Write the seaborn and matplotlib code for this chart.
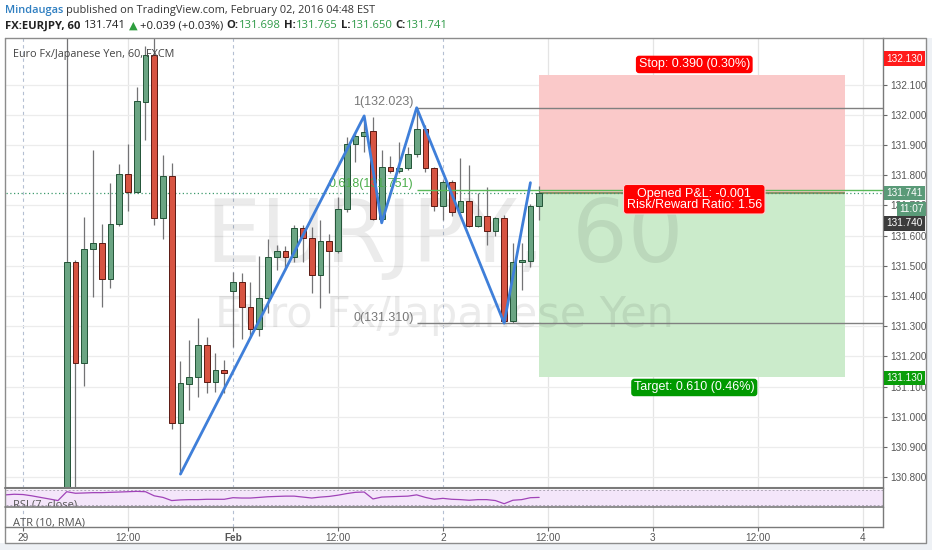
import matplotlib
matplotlib.use('Agg')
import matplotlib.pyplot as plt
import matplotlib.transforms as mtransforms
from matplotlib.patches import Rectangle
from matplotlib.lines import Line2D
import numpy as np
import pandas as pd
import seaborn as sns

# ---------------- data ----------------
bar_index = list(range(5, 60))
opens = [130.550, 131.513, 131.179, 131.554, 131.574, 131.456, 131.637, 131.804, 131.745, 132.043,
         132.198, 131.657, 131.797, 130.978, 131.108, 131.132, 131.237, 131.114, 131.155, 131.417,
         131.445, 131.362, 131.290, 131.394, 131.528, 131.548, 131.528, 131.624, 131.591, 131.469,
         131.582, 131.549, 131.687, 131.902, 131.930, 131.946, 131.654, 131.826, 131.814, 131.823,
         131.870, 131.952, 131.825, 131.699, 131.776, 131.677, 131.715, 131.631, 131.666, 131.616,
         131.657, 131.316, 131.511, 131.517, 131.698]
highs = [132.300, 131.520, 131.662, 131.883, 131.637, 131.773, 131.837, 131.903, 132.091, 132.227,
         132.290, 131.867, 131.839, 131.184, 131.254, 131.328, 131.263, 131.210, 131.188, 131.479,
         131.475, 131.446, 131.532, 131.587, 131.569, 131.565, 131.635, 131.635, 131.629, 131.651,
         131.604, 131.728, 131.927, 131.938, 131.993, 131.993, 131.883, 131.864, 131.909, 131.894,
         132.023, 131.966, 131.828, 131.784, 131.784, 131.858, 131.833, 131.740, 131.760, 131.662,
         131.668, 131.574, 131.574, 131.703, 131.765]
lows = [130.400, 130.600, 131.102, 131.397, 131.364, 131.426, 131.630, 131.682, 131.740, 131.916,
        131.635, 131.587, 130.958, 130.810, 131.022, 131.066, 131.079, 131.083, 131.079, 131.232,
        131.256, 131.260, 131.267, 131.342, 131.486, 131.486, 131.512, 131.513, 131.409, 131.359,
        131.409, 131.541, 131.679, 131.844, 131.877, 131.651, 131.651, 131.806, 131.806, 131.817,
        131.861, 131.811, 131.682, 131.651, 131.666, 131.677, 131.629, 131.629, 131.569, 131.598,
        131.310, 131.310, 131.420, 131.497, 131.650]
closes = [131.513, 131.179, 131.555, 131.576, 131.456, 131.637, 131.804, 131.745, 132.045, 132.198,
          131.657, 131.797, 130.978, 131.111, 131.132, 131.237, 131.114, 131.155, 131.144, 131.445,
          131.362, 131.290, 131.394, 131.528, 131.548, 131.528, 131.624, 131.591, 131.469, 131.582,
          131.549, 131.687, 131.902, 131.930, 131.944, 131.654, 131.826, 131.814, 131.824, 131.870,
          131.952, 131.825, 131.699, 131.776, 131.677, 131.715, 131.631, 131.666, 131.616, 131.657,
          131.316, 131.511, 131.519, 131.698, 131.741]

rsi_index = list(range(-2, 60))
rsi_values = [57.8, 59.5, 58.7, 55.2, 50.8, 46.5, 42.1, 66.5, 62.2, 63.0,
              63.9, 63.9, 64.8, 65.6, 66.5, 67.4, 66.5, 55.2, 50.8, 42.1,
              43.9, 44.7, 44.7, 45.6, 45.6, 45.6, 50.0, 49.1, 49.1, 50.8,
              52.6, 53.5, 54.3, 54.3, 51.7, 49.1, 51.7, 53.5, 56.9, 61.3,
              64.8, 65.6, 46.5, 51.7, 52.6, 53.5, 54.3, 57.8, 50.8, 45.6,
              48.2, 45.6, 44.7, 43.0, 44.7, 44.7, 42.1, 33.4, 43.0, 44.7,
              50.0, 50.8]

zigzag_x = [18, 39, 41, 45, 55, 58]
zigzag_y = [130.810, 131.996, 131.642, 132.023, 131.310, 131.775]

fib_levels = ['1', '0.618', '0']
fib_prices = [132.023, 131.751, 131.310]
fib_start = 45

entry_price = 131.740
stop_price = 132.130
target_price = 131.130
last_price = 131.741
position_start = 59
position_end = 94

time_ticks = [0, 12, 24, 36, 48, 60, 72, 84, 96]
time_labels = ['29', '12:00', 'Feb', '12:00', '2', '12:00', '3', '12:00', '4']
day_ticks = [0, 24, 48]
price_ticks = [130.8, 130.9, 131.0, 131.1, 131.2, 131.3, 131.4, 131.5,
               131.6, 131.7, 131.8, 131.9, 132.0, 132.1]

# ---------------- figure ----------------
sns.set_theme(style='white')
plt.rcParams['font.family'] = ['Liberation Sans', 'DejaVu Sans']

W, H = 932, 550
fig = plt.figure(figsize=(W / 100, H / 100), dpi=100)
fig.patch.set_facecolor('white')

def fy(py):
    return 1 - py / H

L, R = 6, 883
T_PRICE, B_PRICE, B_RSI, B_ATR = 38, 488, 506.7, 527
ax = fig.add_axes([L / W, fy(B_PRICE), (R - L) / W, (B_PRICE - T_PRICE) / H])
ax_rsi = fig.add_axes([L / W, fy(B_RSI), (R - L) / W, (B_RSI - B_PRICE) / H], sharex=ax)
ax_atr = fig.add_axes([L / W, fy(B_ATR), (R - L) / W, (B_ATR - B_RSI) / H], sharex=ax)

XLIM = (-1.94, 98.3)
YLIM = (130.764, 132.254)

for a in (ax, ax_rsi, ax_atr):
    a.set_facecolor('white')
    for s in a.spines.values():
        s.set_visible(False)
    a.spines['right'].set_visible(True)
    a.spines['right'].set_color('#7a7a7a')
    a.spines['right'].set_linewidth(1)
    for t in time_ticks:
        if t in day_ticks:
            a.axvline(t, color='#b4bfd2', lw=0.8, ls=(0, (3, 3)), zorder=0)
        else:
            a.axvline(t, color='#e4e4e4', lw=0.9, zorder=0)

# horizontal grid
for p in price_ticks:
    ax.axhline(p, color='#ececec', lw=0.9, zorder=0)

# position (risk / reward) box
ax.add_patch(Rectangle((position_start, entry_price), position_end - position_start,
                       stop_price - entry_price, facecolor='#fac9c9', edgecolor='none', zorder=1))
ax.add_patch(Rectangle((position_start, target_price), position_end - position_start,
                       entry_price - target_price, facecolor='#cbebcb', edgecolor='none', zorder=1))
ax.hlines(entry_price, position_start, position_end, color='#8f9266', lw=1.5, zorder=1.5)

# watermark (drawn over the translucent-looking boxes)
ax.text(0.5, 0.556, 'EURJPY, 60', transform=ax.transAxes, fontsize=63, family='DejaVu Sans',
        color='black', alpha=0.08, ha='center', va='center', zorder=1.2)
ax.text(0.5, 0.384, 'Euro Fx/Japanese Yen', transform=ax.transAxes, fontsize=31, family='DejaVu Sans',
        color='black', alpha=0.08, ha='center', va='center', zorder=1.2)

# current price dotted line
ax.axhline(last_price, color='#3d9a6c', lw=0.9, ls=(0, (1, 2)), zorder=2.5)

# candles
df = pd.DataFrame({'i': bar_index, 'o': opens, 'h': highs, 'l': lows, 'c': closes})
up = df.c >= df.o
body_bottom = np.minimum(df.o, df.c)
body_h = np.maximum(np.abs(df.c - df.o), 0.004)
ax.vlines(df.i, df.l, df.h, color='#737375', lw=0.9, zorder=3)
ax.bar(df.i[up], body_h[up], bottom=body_bottom[up], width=0.66,
       color='#6ba583', edgecolor='#225437', lw=0.7, zorder=4)
ax.bar(df.i[~up], body_h[~up], bottom=body_bottom[~up], width=0.66,
       color='#d75442', edgecolor='#5b1a13', lw=0.7, zorder=4)

# fib retracement lines
fib_colors = ['#808080', '#59b959', '#808080']
label_colors = ['#787878', '#4cae4c', '#787878']
for lev, pr, lc, tc in zip(fib_levels, fib_prices, fib_colors, label_colors):
    ax.hlines(pr, fib_start, XLIM[1], color=lc, lw=1.0, zorder=5)
    ax.text(fib_start - 0.35, pr + 0.018, f'{lev}({pr:.3f})', color=tc, fontsize=9,
            ha='right', va='center', zorder=5)

# zigzag pattern drawing
sns.lineplot(x=zigzag_x, y=zigzag_y, ax=ax, color='#3f7fd9', lw=2.0, sort=False,
             estimator=None, zorder=6)

# position labels
xm = (position_start + position_end) / 2
risk = stop_price - entry_price
reward = entry_price - target_price
lbl = dict(color='white', fontsize=9, ha='center', va='center', zorder=8,
           textcoords='offset pixels')
ax.annotate(f'Stop: {risk:.3f} ({risk / entry_price * 100:.2f}%)', xy=(xm, stop_price),
            xytext=(2, 11), bbox=dict(boxstyle='round,pad=0.22,rounding_size=0.25',
                                      fc='#ff0000', ec='none'), **lbl)
ax.annotate(f'Opened P&L: {entry_price - last_price:.3f}\nRisk/Reward Ratio: {reward / risk:.2f}',
            xy=(xm, entry_price), xytext=(2, -6), linespacing=0.92,
            bbox=dict(boxstyle='round,pad=0.25,rounding_size=0.25', fc='#ff0000', ec='#ffd0d0',
                      lw=0.8), **lbl)
ax.annotate(f'Target: {reward:.3f} ({reward / entry_price * 100:.2f}%)', xy=(xm, target_price),
            xytext=(2, -10), bbox=dict(boxstyle='round,pad=0.22,rounding_size=0.25',
                                       fc='#009a00', ec='none'), **lbl)

# price scale
ax.set_xlim(*XLIM)
ax.set_ylim(*YLIM)
ax.yaxis.tick_right()
ax.set_yticks(price_ticks)
ax.set_yticklabels([f'{p:.3f}' for p in price_ticks])
ax.tick_params(axis='y', length=3, width=0.8, color='#666666', labelsize=7.2,
               labelcolor='#555555', pad=2, direction='out')
ax.tick_params(axis='x', bottom=False, labelbottom=False)
ax.set_xlabel('')
ax.set_ylabel('')

# price scale tags
btr = mtransforms.blended_transform_factory(ax.transAxes, ax.transData)
tags = [(f'{stop_price:.3f}', 132.186, '#ff1a1a', 1.004),
        (f'{last_price:.3f}', last_price, '#5a9a78', 1.004),
        ('11:07', 131.688, '#5a9a78', 1.019),
        (f'{entry_price:.3f}', 131.640, '#3c3c3c', 1.004),
        (f'{target_price:.3f}', 131.128, '#0a9d0a', 1.004)]
for txt, yv, fc, xa in tags:
    ax.text(xa, yv, txt, transform=btr, color='white', fontsize=7.2, ha='left', va='center',
            clip_on=False, zorder=9,
            bbox=dict(boxstyle='square,pad=0.22', fc=fc, ec='none'))

# RSI pane
ax_rsi.axhspan(30, 70, color='#f4e6fa', zorder=0.2)
ax_rsi.axhline(70, color='#b0a8b8', lw=0.7, ls=(0, (2, 2)), zorder=0.5)
ax_rsi.axhline(30, color='#b0a8b8', lw=0.7, ls=(0, (2, 2)), zorder=0.5)
sns.lineplot(x=rsi_index, y=rsi_values, ax=ax_rsi, color='#a043b8', lw=0.9, estimator=None)
ax_rsi.set_ylim(25.2, 76.7)
ax_rsi.set_yticks([])
ax_rsi.tick_params(axis='x', bottom=False, labelbottom=False)
ax_rsi.set_xlabel('')
ax_rsi.set_ylabel('')
ax_rsi.text(0.008, -0.05, 'RSI (7, close)', transform=ax_rsi.transAxes, fontsize=8,
            family=['Open Sans', 'DejaVu Sans'], color='#555555', ha='left', va='baseline',
            clip_on=True, zorder=3)

# ATR pane + time axis
ax_atr.set_yticks([])
ax_atr.set_ylim(0, 1)
ax_atr.text(0.008, 0.08, 'ATR (10, RMA)', transform=ax_atr.transAxes, fontsize=8,
            family=['Open Sans', 'DejaVu Sans'], color='#555555', ha='left', va='baseline',
            clip_on=True, zorder=3)
ax_atr.set_xticks(time_ticks)
ax_atr.set_xticklabels(time_labels)
ax_atr.tick_params(axis='x', bottom=True, length=3, width=0.8, color='#666666',
                   labelsize=7.2, labelcolor='#555555', pad=1.5, direction='out')
ax_atr.get_xticklabels()[2].set_fontweight('bold')
ax_atr.set_xlim(*XLIM)

# frame and separators (figure pixels)
def fline(xs, ys, **kw):
    fig.add_artist(Line2D([x / W for x in xs], [fy(y) for y in ys],
                          transform=fig.transFigure, **kw))

fig.add_artist(Rectangle((0, fy(550)), 1, 7 / H, transform=fig.transFigure,
                         facecolor='#eef1f5', edgecolor='none', zorder=-1))
fig.add_artist(Rectangle((927 / W, fy(550)), 5 / W, (550 - 38) / H, transform=fig.transFigure,
                         facecolor='#eef1f5', edgecolor='none', zorder=-1))
fline([5, 926, 926, 5, 5], [38, 38, 543, 543, 38], color='#8c8c8c', lw=1.0)
fline([5, 883], [488.3, 488.3], color='#7a7a7a', lw=1.5)
fline([5, 883], [506.7, 506.7], color='#7a7a7a', lw=1.2)
fline([5, 883], [527, 527], color='#7a7a7a', lw=1.0)

# in-chart legend
fig.text(13 / W, fy(55), 'Euro Fx/Japanese Yen, 60, FXCM', fontsize=7.8,
         family=['Open Sans', 'DejaVu Sans'], color='#444444', ha='left', va='center')

# header
renderer = fig.canvas.get_renderer()

def write_line(x_px, y_px, parts, size):
    x = x_px
    for s, col, wt, gap in parts:
        t = fig.text(x / W, fy(y_px), s, color=col, fontweight=wt, fontsize=size,
                     family=['Open Sans', 'DejaVu Sans'], ha='left', va='center')
        x += t.get_window_extent(renderer).width + gap

green_txt = '#2f9a48'
dark = '#222222'
write_line(5, 11, [('Mindaugas', '#2f7fc1', 'semibold', 3),
                   ('published on TradingView.com, February 02, 2016 04:48 EST', '#333333', 'normal', 0)],
           7.9)
o_, h_, l_, c_ = opens[-1], highs[-1], lows[-1], closes[-1]
write_line(5, 26, [('FX:EURJPY, 60', dark, 'bold', 3.5),
                   (f'{c_:.3f}', dark, 'normal', 3),
                   ('\u25b2', '#2e9e3e', 'normal', 2.5),
                   ('+0.039 (+0.03%)', dark, 'normal', 3.5),
                   ('O:', dark, 'bold', 0), (f'{o_:.3f}', green_txt, 'normal', 3.5),
                   ('H:', dark, 'bold', 0), (f'{h_:.3f}', green_txt, 'normal', 3.5),
                   ('L:', dark, 'bold', 0), (f'{l_:.3f}', green_txt, 'normal', 3.5),
                   ('C:', dark, 'bold', 0), (f'{c_:.3f}', green_txt, 'normal', 0)],
           8.1)

fig.savefig('out.png', dpi=100)
